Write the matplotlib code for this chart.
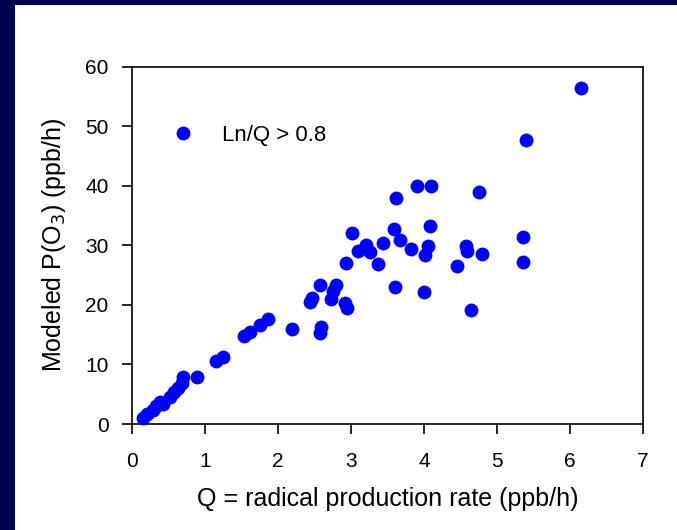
import matplotlib
matplotlib.use("Agg")
import matplotlib.pyplot as plt
from matplotlib.patches import Rectangle

plt.rcParams["font.family"] = ["Liberation Sans", "DejaVu Sans"]

# Q (ppb/h) and modeled P(O3) (ppb/h)
q_rate = [0.15, 0.21, 0.29, 0.33, 0.38, 0.43, 0.52, 0.57, 0.63, 0.69, 0.70, 0.89,
          1.15, 1.24, 1.53, 1.62, 1.76, 1.86, 2.19, 2.44, 2.46, 2.58, 2.59, 2.58,
          2.73, 2.76, 2.80, 2.92, 2.95, 2.93, 3.02, 3.10, 3.21, 3.26, 3.37, 3.44,
          3.59, 3.60, 3.62, 3.67, 3.82, 3.91, 4.00, 4.01, 4.06, 4.08, 4.10,
          4.45, 4.58, 4.59, 4.64, 4.75, 4.79, 5.35, 5.35, 5.40, 6.15]
p_o3 = [1.0, 1.6, 2.4, 3.0, 3.7, 3.3, 4.6, 5.4, 6.0, 6.8, 7.9, 7.9,
        10.5, 11.3, 14.8, 15.4, 16.6, 17.7, 16.0, 20.4, 21.2, 15.3, 16.3, 23.4,
        21.0, 22.4, 23.4, 20.3, 19.5, 27.0, 32.0, 29.1, 30.1, 28.9, 26.9, 30.4,
        32.7, 23.0, 38.0, 30.8, 29.4, 39.9, 22.1, 28.4, 29.9, 33.2, 40.0,
        26.5, 29.8, 29.0, 19.1, 39.0, 28.5, 31.4, 27.2, 47.7, 56.4]

x_ticks = [0, 1, 2, 3, 4, 5, 6, 7]
y_ticks = [0, 10, 20, 30, 40, 50, 60]

fig = plt.figure(figsize=(6.77, 5.30), dpi=100, facecolor="white")

# dark slide border on the left and top
navy = "#000050"
fig.patches.append(Rectangle((0, 0), 15 / 677, 1, transform=fig.transFigure,
                             facecolor=navy, edgecolor="none", zorder=0))
fig.patches.append(Rectangle((0, 1 - 5 / 530), 1, 5 / 530, transform=fig.transFigure,
                             facecolor=navy, edgecolor="none", zorder=0))

ax = fig.add_axes([132 / 677, 1 - 424 / 530, 511 / 677, 357.5 / 530])
ax.plot(q_rate, p_o3, "o", color="#0000ff", markersize=10, markeredgewidth=0,
        label="Ln/Q > 0.8", clip_on=False, zorder=3)

ax.set_xlim(0, 7)
ax.set_ylim(0, 60)
ax.set_xticks(x_ticks)
ax.set_yticks(y_ticks)
ax.tick_params(direction="out", length=7, width=1.2, labelsize=15)
ax.tick_params(axis="x", pad=13)
ax.tick_params(axis="y", pad=10)
for s in ax.spines.values():
    s.set_linewidth(1.2)

ax.set_xlabel("Q = radical production rate (ppb/h)", fontsize=18, labelpad=12)
ax.set_ylabel("Modeled P(O$_3$) (ppb/h)", fontsize=18, labelpad=12)

ax.legend(loc="center left", bbox_to_anchor=(0.039, 0.807), frameon=False,
          fontsize=16, borderaxespad=0, handletextpad=0.75, numpoints=1)

fig.savefig("out.png", dpi=100, facecolor="white")
